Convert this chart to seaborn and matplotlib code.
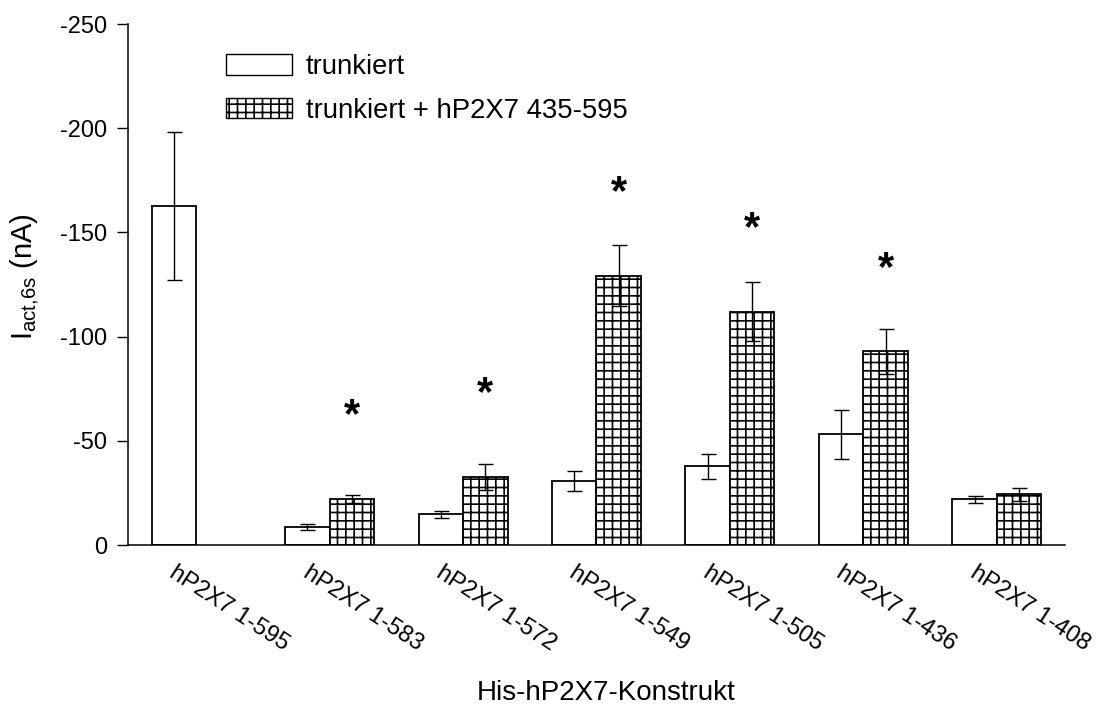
import numpy as np
import pandas as pd
import matplotlib
matplotlib.use("Agg")
import matplotlib.pyplot as plt
import seaborn as sns
from matplotlib.patches import Patch
from matplotlib.container import BarContainer
from matplotlib.transforms import ScaledTranslation

# ---- data ----
constructs = ["hP2X7 1-595", "hP2X7 1-583", "hP2X7 1-572", "hP2X7 1-549",
              "hP2X7 1-505", "hP2X7 1-436", "hP2X7 1-408"]
groups = ["trunkiert", "trunkiert + hP2X7 435-595"]
trunc_mean = [-162.5, -8.5, -14.7, -30.6, -37.8, -53.1, -21.9]
trunc_err = [35.5, 1.4, 1.8, 4.8, 6.1, 11.7, 1.7]
plus_mean = [np.nan, -22.2, -32.8, -129.2, -112.0, -92.9, -24.3]
plus_err = [np.nan, 2.0, 6.3, 14.7, 14.3, 10.6, 3.0]
star_y = [np.nan, -65.7, -76.3, -172.7, -155.6, -136.4, np.nan]
y_ticks = [0, -50, -100, -150, -200, -250]

sns.set_theme(style="ticks")
plt.rcParams["font.family"] = ["Liberation Sans", "DejaVu Sans"]
plt.rcParams["mathtext.default"] = "regular"
plt.rcParams["axes.unicode_minus"] = False
plt.rcParams["hatch.linewidth"] = 1.2
plt.rcParams["text.color"] = "black"
plt.rcParams["axes.labelcolor"] = "black"

rows = []
for c, v in zip(constructs, trunc_mean):
    rows.append({"construct": c, "group": groups[0], "value": v})
for c, v in zip(constructs, plus_mean):
    rows.append({"construct": c, "group": groups[1], "value": v})
df = pd.DataFrame(rows).dropna()

fig = plt.figure(figsize=(11.11, 7.06), dpi=100)
ax = fig.add_axes([0.1152, 0.228, 0.8434, 0.738])

sns.barplot(data=df, x="construct", y="value", hue="group",
            order=constructs, hue_order=groups,
            palette=["white", "white"], saturation=1,
            edgecolor="black", linewidth=1.3, width=0.667,
            errorbar=None, legend=False, ax=ax)

means = [trunc_mean, plus_mean]
errs = [trunc_err, plus_err]
bar_conts = [c for c in ax.containers if isinstance(c, BarContainer)]
hatched_x = {}
for k, cont in enumerate(bar_conts):
    for p in list(cont.patches):
        if k == 1:
            p.set_hatch("++")
        xc = p.get_x() + p.get_width() / 2
        i = int(round(xc))
        if k == 1:
            hatched_x[i] = xc
        ax.errorbar(xc, means[k][i], yerr=errs[k][i], fmt="none",
                    ecolor="black", elinewidth=1.0, capsize=5.4,
                    capthick=1.0, zorder=5)

for i, s in enumerate(star_y):
    if not np.isnan(s) and i in hatched_x:
        ax.annotate("*", (hatched_x[i], s), xytext=(0, -14),
                    textcoords="offset points", ha="center", va="baseline",
                    fontsize=30, fontweight="bold", color="black")

ax.set_ylim(0, -250)
ax.set_xlim(-0.51, 6.51)
ax.set_yticks(y_ticks)
ax.set_yticklabels([str(t) for t in y_ticks])
sns.despine(ax=ax)
for sp in ["left", "bottom"]:
    ax.spines[sp].set_linewidth(1.1)
    ax.spines[sp].set_color("black")

ax.tick_params(axis="y", direction="out", length=8, width=1, pad=7,
               labelsize=17, colors="black")
ax.tick_params(axis="x", length=0, pad=12, labelsize=17, colors="black")

offset = ScaledTranslation(0.33, 0, fig.dpi_scale_trans)
for lbl in ax.get_xticklabels():
    lbl.set_rotation(-33)
    lbl.set_ha("center")
    lbl.set_va("top")
    lbl.set_transform(lbl.get_transform() + offset)

ax.set_ylabel(r"I$_{act{,}6s}$ (nA)", fontsize=21, color="black")
ax.yaxis.set_label_coords(-0.093, 0.515)
ax.set_xlabel("His-hP2X7-Konstrukt", fontsize=20, color="black")
ax.xaxis.set_label_coords(0.51, -0.26)

handles = [Patch(facecolor="white", edgecolor="black", linewidth=1, label=groups[0]),
           Patch(facecolor="white", edgecolor="black", linewidth=1, hatch="++", label=groups[1])]
leg = ax.legend(handles=handles, loc="upper left", bbox_to_anchor=(0.1046, 0.942),
                frameon=False, fontsize=19.8, handlelength=2.4, handleheight=0.76,
                handletextpad=0.5, labelspacing=0.64, borderpad=0, borderaxespad=0)
for t in leg.get_texts():
    t.set_color("black")

fig.savefig("out.png", dpi=100)
